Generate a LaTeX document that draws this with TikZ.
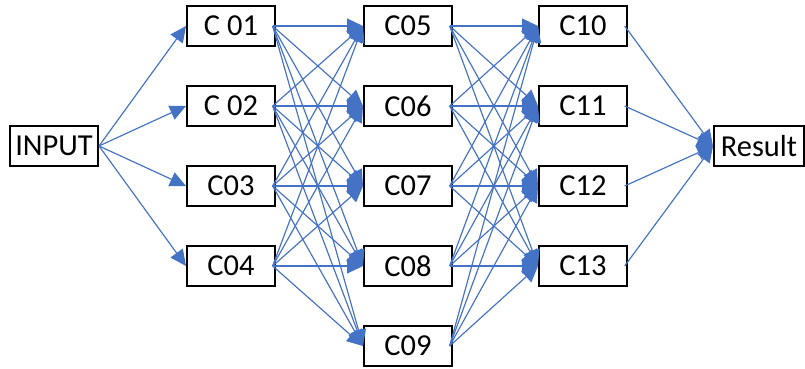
\documentclass[tikz,border=0pt]{standalone}
\usepackage{fontspec}
\setmainfont{Carlito}
\usetikzlibrary{arrows.meta}

\definecolor{linkblue}{HTML}{4472C4}

\begin{document}
\begin{tikzpicture}[x=0.03cm,y=-0.03cm,
        cell/.style={draw=black, line width=0.6mm, fill=white, minimum width=2.64cm,
            minimum height=1.2cm, inner sep=0pt, font=\fontsize{26}{29}\selectfont},
        link/.style={draw=linkblue, line width=0.35mm, -{Triangle[length=4.8mm,width=4.5mm]}}]
        %fix the page to the size of the reference
        \useasboundingbox (0,0) rectangle (805,369);

        %draw the input and result boxes
        \node[cell] (input) at (54,146) {INPUT};
        \node[cell, minimum width=2.7cm] (result) at (759,146) {Result};

        %draw the first column
        \node[cell] (c01) at (231,26) {C 01};
        \node[cell] (c02) at (231,106) {C 02};
        \node[cell] (c03) at (231,186) {C03};
        \node[cell] (c04) at (231,266) {C04};

        %draw the middle column
        \node[cell] (c05) at (408,26) {C05};
        \node[cell] (c06) at (408,106) {C06};
        \node[cell] (c07) at (408,186) {C07};
        \node[cell] (c08) at (408,266) {C08};
        \node[cell] (c09) at (408,346) {C09};

        %draw the last column
        \node[cell] (c10) at (583,26) {C10};
        \node[cell] (c11) at (583,106) {C11};
        \node[cell] (c12) at (583,186) {C12};
        \node[cell] (c13) at (583,266) {C13};

        %draw the links from the input
        \foreach \b in {01,02,03,04}
            \draw[link] (input.east) -- (c\b.west);

        %draw the links between the first and the middle column
        \foreach \a in {01,02,03,04}
            \foreach \b in {05,06,07,08,09}
                \draw[link] ([xshift=-1mm]c\a.east) -- (c\b.west);

        %draw the links between the middle and the last column
        \foreach \a in {05,06,07,08,09}
            \foreach \b in {10,11,12,13}
                \draw[link] ([xshift=-1mm]c\a.east) -- (c\b.west);

        %draw the links to the result
        \foreach \a in {10,11,12,13}
            \draw[link] ([xshift=-1mm]c\a.east) -- (result.west);
    \end{tikzpicture}
\end{document}
